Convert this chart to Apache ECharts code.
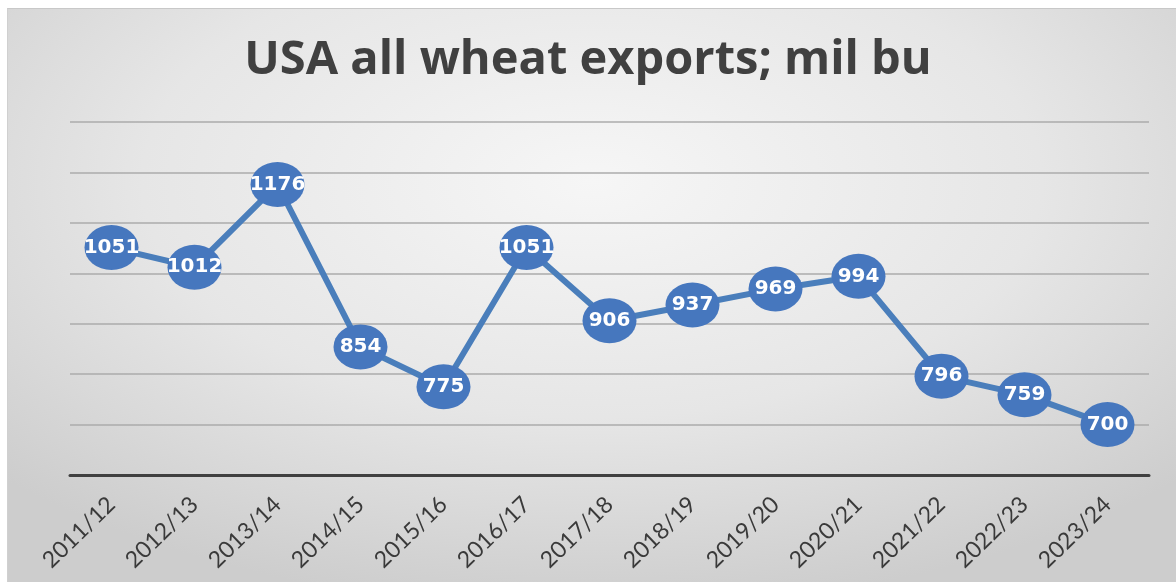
<!DOCTYPE html>
<html>
<head>
<meta charset="utf-8">
<script src="https://cdn.jsdelivr.net/npm/echarts@6/dist/echarts.min.js"></script>
<style>
  html, body { margin: 0; padding: 0; background: #ffffff; }
  #frame {
    position: absolute; left: 7px; top: 8px; width: 1169px; height: 574px;
    border-top: 1px solid #c8c8c8; border-left: 1px solid #d0d0d0;
    box-sizing: border-box;
    background: radial-gradient(ellipse 70% 75% at 50% 30%, #f6f6f6 0%, #e6e6e6 55%, #cdcdcd 100%);
  }
  #chart { position: absolute; left: 0; top: 0; width: 1176px; height: 582px; }
</style>
</head>
<body>
<div id="frame"></div>
<div id="chart"></div>
<script>
// Marketing years and US all-wheat exports (million bushels)
const seasons = ['2011/12', '2012/13', '2013/14', '2014/15', '2015/16', '2016/17', '2017/18',
                 '2018/19', '2019/20', '2020/21', '2021/22', '2022/23', '2023/24'];
const exportsMilBu = [1051, 1012, 1176, 854, 775, 1051, 906, 937, 969, 994, 796, 759, 700];

const yMin = 600;
const yMax = 1300;
const yStep = 100;

const chart = echarts.init(document.getElementById('chart'), null, { renderer: 'canvas' });

chart.setOption({
  backgroundColor: 'transparent',
  animation: false,
  title: {
    text: 'USA all wheat exports; mil bu',
    left: 'center',
    top: 32,
    textStyle: { fontFamily: 'Open Sans', fontWeight: 'bold', fontSize: 47, color: '#404040' }
  },
  grid: { left: 70, right: 27, top: 122, bottom: 107 },
  xAxis: {
    type: 'category',
    data: seasons,
    boundaryGap: true,
    axisLine: { show: true, lineStyle: { color: '#404040', width: 3 } },
    axisTick: { show: false },
    axisLabel: {
      rotate: 44,
      margin: 26,
      fontFamily: 'Lato',
      fontSize: 23,
      color: '#3a3a3a'
    }
  },
  yAxis: {
    type: 'value',
    min: yMin,
    max: yMax,
    interval: yStep,
    axisLine: { show: false },
    axisTick: { show: false },
    axisLabel: { show: false },
    splitLine: { lineStyle: { color: '#ababab', width: 1.5 } }
  },
  series: [{
    type: 'line',
    data: exportsMilBu,
    symbol: 'circle',
    symbolSize: [54, 45],
    lineStyle: { color: '#4a7ebb', width: 6 },
    itemStyle: { color: '#4677be' },
    label: {
      show: true,
      position: 'inside',
      color: '#ffffff',
      fontFamily: 'DejaVu Sans',
      fontWeight: 'bold',
      fontSize: 20
    },
    z: 3
  }]
});
</script>
</body>
</html>
